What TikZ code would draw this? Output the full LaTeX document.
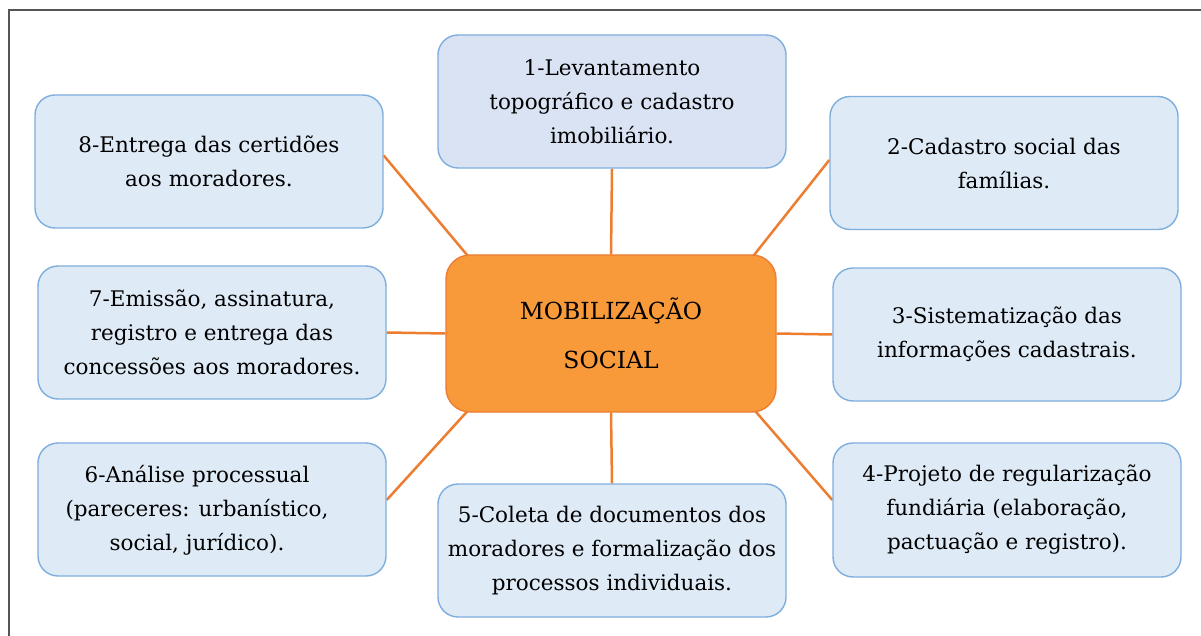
\documentclass[tikz,border=0pt]{standalone}
\usepackage{fontspec}
\setmainfont{DejaVu Serif}
\usetikzlibrary{calc,backgrounds}
\definecolor{boxfill}{HTML}{DEEAF6}
\definecolor{boxfillA}{HTML}{DAE3F3}
\definecolor{boxline}{HTML}{7EAEDE}
\definecolor{hubfill}{HTML}{F8993A}
\definecolor{hubline}{HTML}{ED7D31}
\definecolor{link}{HTML}{ED7D31}
\definecolor{framec}{HTML}{555555}
\tikzset{
  stepbox/.style={draw=boxline, line width=1.4pt, fill=boxfill, rounded corners=20pt,
    minimum width=348pt, minimum height=133pt, inner sep=0pt, align=center,
    font=\fontsize{21.5}{34}\selectfont},
  hub/.style={draw=hubline, line width=1.4pt, fill=hubfill, rounded corners=24pt,
    minimum width=330pt, minimum height=157pt, inner sep=0pt, align=center,
    font=\fontsize{23.5}{49}\selectfont},
  linkline/.style={draw=link, line width=2.5pt}
}
\begin{document}
\begin{tikzpicture}[x=1pt,y=-1pt]
\useasboundingbox (0,0) rectangle (1201,636);
\draw[framec, line width=1.6pt] (9,640) -- (9,10) -- (1205,10);

\node[hub] (c) at (611,333.5) {MOBILIZAÇÃO\\SOCIAL};
\node[stepbox, fill=boxfillA] (n1) at (612,101.5) {1-Levantamento\\topográfico e cadastro\\imobiliário.};
\node[stepbox] (n2) at (1004,163) {2-Cadastro social das\\famílias.};
\node[stepbox] (n3) at (1007,334.5) {3-Sistematização das\\informações cadastrais.};
\node[stepbox, minimum height=134pt] (n4) at (1007,510) {4-Projeto de regularização\\fundiária (elaboração,\\pactuação e registro).};
\node[stepbox] (n5) at (612,550.5) {5-Coleta de documentos dos\\moradores e formalização dos\\processos individuais.};
\node[stepbox] (n6) at (212,509.5) {\hspace*{-30pt}\begin{tabular}{@{}c@{}}6-Análise processual\\(pareceres: urbanístico,\\social, jurídico).\end{tabular}};
\node[stepbox] (n7) at (212,332.5) {7-Emissão, assinatura,\\registro e entrega das\\concessões aos moradores.};
\node[stepbox] (n8) at (209,161.5) {8-Entrega das certidões\\aos moradores.};

\begin{scope}[on background layer]
\draw[linkline] (n1.south) -- (c.north);
\draw[linkline] (c.south) -- (n5.north);
\draw[linkline] (n7.east) -- (c.west);
\draw[linkline] (c.east) -- (n3.west);
\draw[linkline] ($(n8.east)+(0,-6)$) -- ($(c.north west)+(30,10.5)$);
\draw[linkline] ($(n2.west)+(0,-3)$) -- ($(c.north east)+(-30,10)$);
\draw[linkline] ($(n6.east)+(0,-9.5)$) -- ($(c.south west)+(28,-8)$);
\draw[linkline] ($(n4.west)+(0,-10)$) -- ($(c.south east)+(-27,-8)$);
\end{scope}
\end{tikzpicture}
\end{document}
